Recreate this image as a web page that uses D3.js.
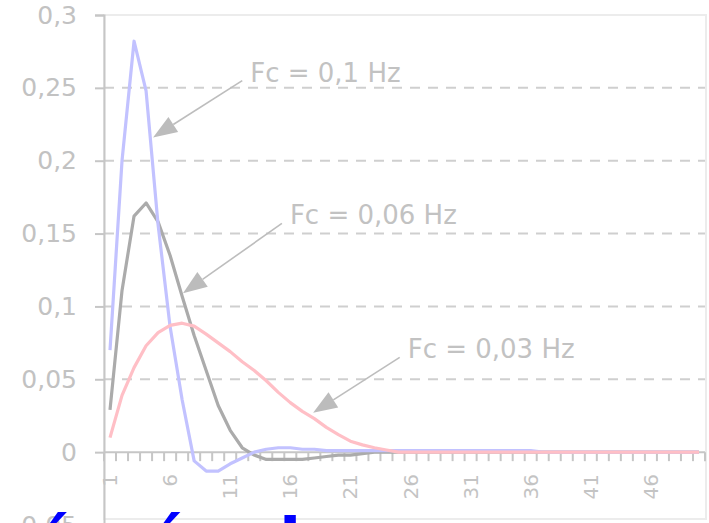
<!DOCTYPE html>
<html><head><meta charset="utf-8">
<script src="https://cdn.jsdelivr.net/npm/d3@7/dist/d3.min.js"></script>
<style>html,body{margin:0;padding:0;background:#fff;overflow:hidden}</style>
</head><body>
<script>
const categories = d3.range(1, 51);
const tickLabels = [1, 6, 11, 16, 21, 26, 31, 36, 41, 46];
const yTicks = [0, 0.05, 0.1, 0.15, 0.2, 0.25, 0.3, -0.05];
const yTickLabels = ["0", "0,05", "0,1", "0,15", "0,2", "0,25", "0,3", "-0,05"];
const fc01 = [0.070, 0.200, 0.282, 0.248, 0.156, 0.086, 0.036, -0.006, -0.013, -0.013,
  -0.008, -0.004, 0.000, 0.002, 0.003, 0.003, 0.002, 0.002, 0.001, 0.001,
  0.001, 0.001, 0.001, 0.001, 0.001, 0.001, 0.001, 0.001, 0.001, 0.001,
  0.001, 0.001, 0.001, 0.001, 0.001, 0.001, 0, 0, 0, 0,
  0, 0, 0, 0, 0, 0, 0, 0, 0, 0];
const fc006 = [0.029, 0.111, 0.162, 0.171, 0.158, 0.135, 0.107, 0.080, 0.056, 0.032,
  0.015, 0.003, -0.002, -0.005, -0.005, -0.005, -0.005, -0.004, -0.003, -0.002,
  -0.002, -0.001, 0, 0, 0, 0, 0, 0, 0, 0,
  0, 0, 0, 0, 0, 0, 0, 0, 0, 0,
  0, 0, 0, 0, 0, 0, 0, 0, 0, 0];
const fc003 = [0.010, 0.039, 0.058, 0.073, 0.082, 0.087, 0.0885, 0.0865, 0.081, 0.075,
  0.069, 0.062, 0.056, 0.049, 0.041, 0.034, 0.028, 0.023, 0.017, 0.012,
  0.0075, 0.005, 0.003, 0.0015, 0, 0, 0, 0, 0, 0,
  0, 0, 0, 0, 0, 0, 0, 0, 0, 0,
  0, 0, 0, 0, 0, 0, 0, 0, 0, 0];
const seriesNames = ["Fc = 0,06 Hz", "Fc = 0,1 Hz", "Fc = 0,03 Hz"];
const seriesValues = [fc006, fc01, fc003];
const seriesColors = ["#ababab", "#c2c2ff", "#ffbfc6"];
// annotations: label, arrow tip (category, value), arrow tail (category, value)
const annLabels = ["Fc = 0,1 Hz", "Fc = 0,06 Hz", "Fc = 0,03 Hz"];
const annTipCat = [4.58, 7.07, 17.9];
const annTipVal = [0.216, 0.109, 0.027];
const annTailCat = [12.0, 15.3, 25.1];
const annTailVal = [0.255, 0.157, 0.065];

const W = 709, H = 523;
const svg = d3.select("body").append("svg").attr("width", W).attr("height", H)
  .style("font-family", "'DejaVu Sans', sans-serif");

const x = d3.scaleBand().domain(categories).range([104, 705]).padding(0);
const xc = c => x(c) + x.bandwidth() / 2;
const xf = f => 104 + (f - 0.5) * x.bandwidth(); // fractional category position
const y = d3.scaleLinear().domain([-0.05, 0.3]).range([525, 15]);

const light = "#c6c6c6";
// frame
svg.append("rect").attr("x", 104).attr("y", y(0.3)).attr("width", 602).attr("height", 519 - y(0.3))
  .attr("fill", "none").attr("stroke", "#ececec").attr("stroke-width", 2);

// gridlines dashed
svg.append("g").selectAll("line").data([0.05, 0.1, 0.15, 0.2, 0.25]).join("line")
  .attr("x1", 104).attr("x2", 705).attr("y1", d => y(d)).attr("y2", d => y(d))
  .attr("stroke", "#cfcfcf").attr("stroke-width", 2).attr("stroke-dasharray", "10,8");

// y axis
const yAxis = d3.axisLeft(y).tickValues(yTicks).tickSize(9)
  .tickFormat((d, i) => yTickLabels[i]);
const gy = svg.append("g").attr("transform", "translate(104,0)").call(yAxis);
gy.select(".domain").attr("stroke", light).attr("stroke-width", 2);
gy.selectAll(".tick line").attr("stroke", light).attr("stroke-width", 2);
gy.selectAll(".tick text").attr("x", -27).attr("fill", "#c2c2c2")
  .style("font-size", "25px").style("font-family", "'DejaVu Sans', sans-serif");

// x axis line at 0 with ticks at band boundaries
const gx = svg.append("g");
gx.append("line").attr("x1", 104).attr("x2", 705).attr("y1", y(0)).attr("y2", y(0))
  .attr("stroke", light).attr("stroke-width", 2);
gx.selectAll("line.t").data(categories.concat([51])).join("line").attr("class", "t")
  .attr("x1", d => d <= 50 ? x(d) : 705).attr("x2", d => d <= 50 ? x(d) : 705)
  .attr("y1", y(0)).attr("y2", y(0) + 9)
  .attr("stroke", light).attr("stroke-width", 2);
gx.selectAll("text").data(tickLabels).join("text")
  .attr("transform", d => `translate(${xc(d) + 7},474) rotate(-90)`)
  .attr("text-anchor", "end").attr("fill", "#c4c4c4").style("font-size", "20px")
  .text(d => d);

// series lines
const line = d3.line().x((d, i) => xc(categories[i])).y(d => y(d)).curve(d3.curveLinear);
svg.append("g").selectAll("path").data(seriesValues).join("path")
  .attr("d", d => line(d)).attr("fill", "none")
  .attr("stroke", (d, i) => seriesColors[i]).attr("stroke-width", 3.2)
  .attr("stroke-linejoin", "round");

// annotations
const ag = svg.append("g");
annLabels.forEach((lab, i) => {
  const tx = xf(annTipCat[i]), ty = y(annTipVal[i]);
  const sx = xf(annTailCat[i]), sy = y(annTailVal[i]);
  const ang = Math.atan2(ty - sy, tx - sx);
  const L = 24, Wd = 9;
  const bx = tx - L * Math.cos(ang), by = ty - L * Math.sin(ang);
  ag.append("line").attr("x1", sx).attr("y1", sy).attr("x2", bx).attr("y2", by)
    .attr("stroke", "#bdbdbd").attr("stroke-width", 1.6);
  ag.append("path").attr("d", `M${tx},${ty}L${bx + Wd * Math.sin(ang)},${by - Wd * Math.cos(ang)}L${bx - Wd * Math.sin(ang)},${by + Wd * Math.cos(ang)}Z`)
    .attr("fill", "#bcbcbc");
  ag.append("text").attr("x", sx + 8).attr("y", sy + 1).attr("fill", "#c2c2c2")
    .style("font-size", "26px").text(lab);
});

// overlay caption (mostly cut off at the bottom edge, as in the reference)
svg.append("text").attr("x", -8).attr("y", 565).attr("fill", "#0000ff")
  .style("font-family", "'DejaVu Sans', sans-serif").style("font-weight", "bold")
  .style("font-size", "65px").text("cón ónale");
</script>
</body></html>
